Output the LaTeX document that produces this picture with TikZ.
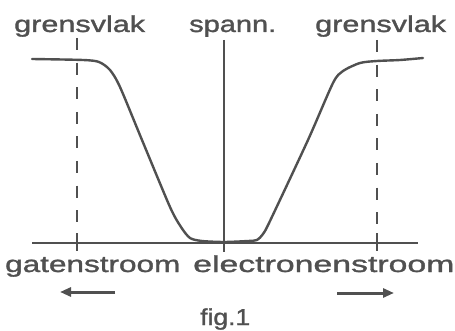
\documentclass[tikz,border=0pt]{standalone}
\usepackage{fontspec}
\setmainfont{Liberation Sans}
\newfontfamily\labfont[FakeBold=1.2]{Liberation Sans}
\usetikzlibrary{arrows.meta}
\definecolor{ink}{RGB}{80,80,80}
\begin{document}
\begin{tikzpicture}[x=1pt,y=-1pt,
  curve/.style={draw=ink,line width=2.4pt,line cap=round,line join=round},
  axisline/.style={draw=ink,line width=2.2pt},
  dashline/.style={draw=ink,line width=2.3pt,dash pattern=on 12pt off 12.6pt},
  lbl/.style={text=ink,inner sep=0pt,anchor=base west,font=\labfont\fontsize{23}{23}\selectfont},
  arr/.style={draw=ink,line width=3pt,-{Triangle[length=11pt,width=9pt]}}]
\useasboundingbox[fill=white] (0,0) rectangle (455,331);
% axes
\coordinate (hl) at (32,243);
\coordinate (hr) at (418,243);
\coordinate (vt) at (224,40);
\coordinate (vb) at (224,252);
\draw[axisline] (hl) -- (hr);
\draw[axisline] (vt) -- (vb);
% dashed boundaries
\coordinate (dlt) at (77,38);
\coordinate (dlb) at (77,251);
\coordinate (drt) at (377,40);
\coordinate (drb) at (377,251);
\draw[dashline] (dlt) -- (dlb);
\draw[dashline] (drt) -- (drb);
\draw[axisline] (77,233) -- (77,251);
\draw[axisline] (377,233) -- (377,251);
% curve
\draw[curve] plot[smooth,tension=0.45] coordinates {
 (32,59) (83,60) (99,62) (110,70) (120,87) (142,140) (170,207) (181,227)
 (190,238) (202,241) (224,242) (248,241) (257,240) (263,234) (270,221)
 (308,140) (333,83) (343,71) (360,63) (377,61) (400,60) (423,58)};
% labels
\node[lbl] (g1) at (14,32) {\scalebox{1.33}[1]{grensvlak}};
\node[lbl] (sp) at (189,32) {\scalebox{1.26}[1]{spann.}};
\node[lbl] (g2) at (315,32) {\scalebox{1.33}[1]{grensvlak}};
\node[lbl] (gs) at (5,272) {\scalebox{1.37}[1]{gatenstroom}};
\node[lbl] (es) at (193,272) {\scalebox{1.47}[1]{electronenstroom}};
\node[lbl] (fg) at (200,325) {\scalebox{1.15}[1]{fig.1}};
% arrows
\coordinate (a1s) at (115,292);
\coordinate (a1e) at (60,292);
\coordinate (a2s) at (337,293);
\coordinate (a2e) at (394,293);
\draw[arr] (a1s) -- (a1e);
\draw[arr] (a2s) -- (a2e);
\end{tikzpicture}
\end{document}
